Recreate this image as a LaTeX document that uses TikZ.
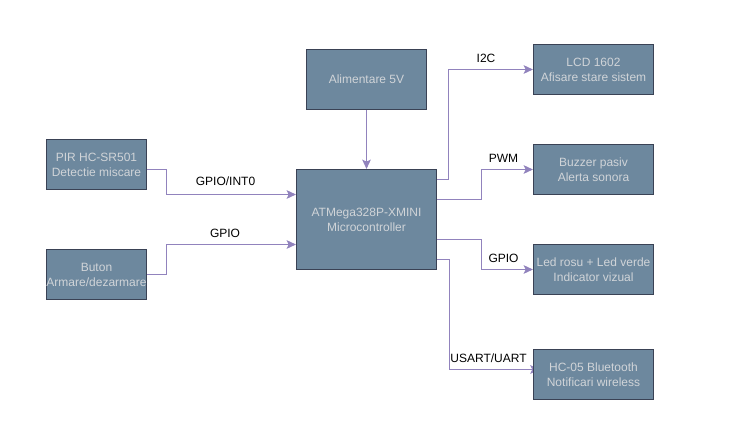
\documentclass[tikz,border=0pt]{standalone}
\usepackage{fontspec}
\setmainfont{Liberation Sans}
\usetikzlibrary{arrows.meta,backgrounds}
\definecolor{blockfill}{HTML}{6D889E}
\definecolor{blockline}{HTML}{3A4255}
\definecolor{blocktext}{HTML}{D0D4D8}
\definecolor{linkline}{HTML}{9183BD}

\begin{document}
\begin{tikzpicture}[x=0.75pt,y=-0.75pt,
    block/.style ={rectangle, draw=blockline, fill=blockfill, text=blocktext, line width=0.85pt,
      minimum width=75pt, minimum height=37.5pt, inner sep=0pt, align=center, font=\fontsize{9}{11.25}\selectfont},
    link/.style ={draw=linkline, line width=0.85pt, -{Stealth[length=7pt,width=6.5pt,inset=1.5pt]}},
    busname/.style ={text=black, inner sep=0pt, font=\fontsize{9}{11}\selectfont}]
   \useasboundingbox (0,0) rectangle (730,434);

   \node[block] (pir)  at (96.5,164.5)  {PIR HC-SR501\\Detectie miscare};
   \node[block] (buton)  at (96.5,274.5)  {Buton\\Armare/dezarmare};
   \node[block,minimum width=90pt,minimum height=45pt] (alim)  at (366.5,79.5)  {Alimentare 5V};
   \node[block,minimum width=105pt,minimum height=75pt] (mcu)  at (366.5,219.5)  {ATMega328P-XMINI\\Microcontroller};
   \node[block,minimum width=90pt] (lcd)  at (593.5,69.5)  {LCD 1602\\Afisare stare sistem};
   \node[block,minimum width=90pt] (buzzer)  at (593.5,169.5)  {Buzzer pasiv\\Alerta sonora};
   \node[block,minimum width=90pt] (led)  at (593.5,269.5)  {Led rosu + Led verde\\Indicator vizual};
   \node[block,minimum width=90pt] (hc)  at (593.5,374.5)  {HC-05 Bluetooth\\Notificari wireless};

   \begin{scope}[on background layer]
   \draw[link] ([yshift=-3.75pt]pir.east) -| (166.5,194.5) -- ([yshift=18.75pt]mcu.west);
   \draw[link] (buton.east) -| (166.5,244.5) -- ([yshift=-18.75pt]mcu.west);
   \draw[link] (alim) -- (mcu);
   \draw[link] ([yshift=30pt]mcu.east) -| (448.5,69.5) -- (lcd.west);
   \draw[link] ([yshift=15pt]mcu.east) -| (481.5,169.5) -- (buzzer.west);
   \draw[link] ([yshift=-15pt]mcu.east) -| (481.5,269.5) -- (led.west);
   \draw[link] ([yshift=-30pt]mcu.east) -| (449.5,369.5) -- ([xshift=5pt,yshift=3.75pt]hc.west);
   \end{scope}

   \node[busname] (busint)  at (225.5,181.5)  {GPIO/INT0};
   \node[busname] (busbtn)  at (225,233.5)  {GPIO};
   \node[busname] (busi2c)  at (486,58.5)  {I2C};
   \node[busname] (buspwm)  at (503.5,158.5)  {PWM};
   \node[busname] (busled)  at (503.5,258.5)  {GPIO};
   \node[busname] (bususart)  at (488.5,358.5)  {USART/UART};
\end{tikzpicture}
\end{document}
